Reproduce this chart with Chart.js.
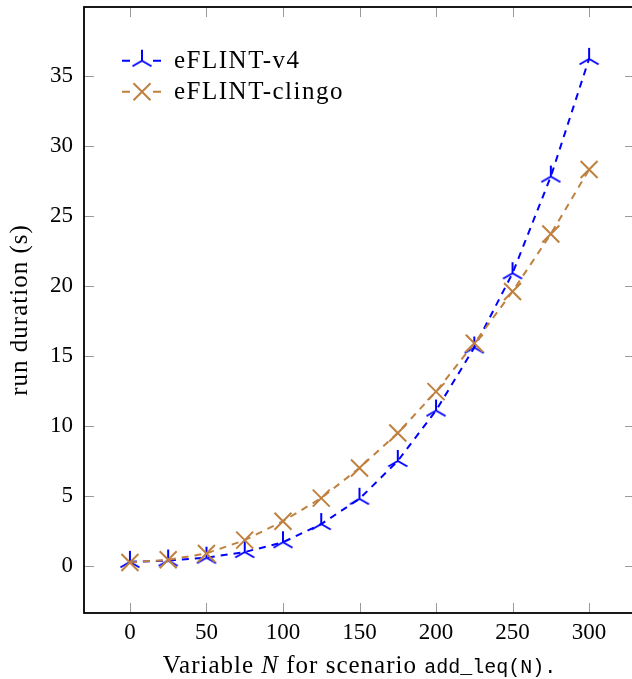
<!DOCTYPE html>
<html>
<head>
<meta charset="utf-8">
<script src="https://cdn.jsdelivr.net/npm/chart.js@4.4.1/dist/chart.umd.min.js"></script>
<style>
  html, body { margin: 0; padding: 0; background: #fff; overflow: hidden; }
  #wrap { position: relative; width: 640px; height: 679px; }
</style>
</head>
<body>
<div id="wrap"><canvas id="myChart"></canvas></div>
<script>
// data
const sizes = [0, 25, 50, 75, 100, 125, 150, 175, 200, 225, 250, 275, 300];
const v4Times = [0.3, 0.4, 0.6, 1.0, 1.7, 3.0, 4.8, 7.5, 11.1, 15.6, 20.9, 27.8, 36.2];
const clingoTimes = [0.25, 0.45, 0.9, 1.85, 3.2, 4.85, 7.0, 9.5, 12.45, 15.9, 19.6, 23.7, 28.3];
const seriesNames = ['eFLINT-v4', 'eFLINT-clingo'];
const xTicks = [0, 50, 100, 150, 200, 250, 300];
const yTicks = [0, 5, 10, 15, 20, 25, 30, 35];

const BLUE = '#0000ff';
const BROWN = '#bf8040';
const SERIF = "'Liberation Serif', 'Times New Roman', serif";

// pgfplots "Mercedes star" marker
function starMarker(color) {
  const c = document.createElement('canvas');
  c.width = 28; c.height = 28;
  const g = c.getContext('2d');
  g.strokeStyle = color;
  g.lineWidth = 2;
  g.beginPath();
  [-90, 30, 150].forEach(a => {
    g.moveTo(14, 14);
    g.lineTo(14 + 11 * Math.cos(a * Math.PI / 180), 14 + 11 * Math.sin(a * Math.PI / 180));
  });
  g.stroke();
  return c;
}
const star = starMarker(BLUE);

// box + inward ticks like pgfplots
const framePlugin = {
  id: 'frame',
  afterDatasetsDraw(chart) {
    const { ctx, chartArea: a, scales: { x, y } } = chart;
    ctx.save();
    ctx.strokeStyle = '#9a9a9a';
    ctx.lineWidth = 1;
    ctx.beginPath();
    x.ticks.forEach(t => {
      const px = Math.round(x.getPixelForValue(t.value)) + 0.5;
      ctx.moveTo(px, a.bottom); ctx.lineTo(px, a.bottom - 10);
      ctx.moveTo(px, a.top); ctx.lineTo(px, a.top + 10);
    });
    y.ticks.forEach(t => {
      const py = Math.round(y.getPixelForValue(t.value)) + 0.5;
      ctx.moveTo(a.left, py); ctx.lineTo(a.left + 10, py);
      ctx.moveTo(a.right, py); ctx.lineTo(a.right - 10, py);
    });
    ctx.stroke();
    ctx.strokeStyle = '#000';
    ctx.lineWidth = 1.8;
    ctx.strokeRect(a.left, a.top, a.right - a.left, a.bottom - a.top);
    ctx.restore();
  }
};

// legend in the upper left corner of the axes
const legendPlugin = {
  id: 'cornerLegend',
  afterDraw(chart) {
    const ctx = chart.ctx;
    const rows = [60.7, 91.7];
    ctx.save();
    chart.data.datasets.forEach((ds, i) => {
      const yy = rows[i];
      ctx.strokeStyle = ds.borderColor;
      ctx.lineWidth = 2;
      ctx.setLineDash([8, 23]);
      ctx.beginPath();
      ctx.moveTo(122, yy); ctx.lineTo(161, yy);
      ctx.stroke();
      ctx.setLineDash([]);
      if (ds.pointStyle === 'crossRot') {
        const r = 8.5;
        ctx.beginPath();
        ctx.moveTo(142 - r, yy - r); ctx.lineTo(142 + r, yy + r);
        ctx.moveTo(142 - r, yy + r); ctx.lineTo(142 + r, yy - r);
        ctx.stroke();
      } else {
        ctx.drawImage(ds.pointStyle, 142 - 14, yy - 14);
      }
      ctx.fillStyle = '#000';
      ctx.font = '25px ' + SERIF;
      ctx.letterSpacing = '1.5px';
      ctx.textBaseline = 'middle';
      ctx.fillText(ds.label, 174, yy + 1);
    });
    ctx.restore();
  }
};

// axis titles: italic N and typewriter part in the x title
const titlesPlugin = {
  id: 'axisTitles',
  afterDraw(chart) {
    const { ctx, chartArea: a } = chart;
    const parts = [
      ['Variable ', '25px ' + SERIF, '1px'],
      ['N', 'italic 25px ' + SERIF, '1px'],
      [' for scenario ', '25px ' + SERIF, '1px'],
      ['add_leq(N).', "20px 'Liberation Mono', 'DejaVu Sans Mono', monospace", '0px']
    ];
    ctx.save();
    let total = 0;
    parts.forEach(p => { ctx.font = p[1]; ctx.letterSpacing = p[2]; total += ctx.measureText(p[0]).width; });
    let xx = (a.left + a.right) / 2 - total / 2;
    ctx.fillStyle = '#000';
    ctx.textBaseline = 'alphabetic';
    parts.forEach(p => {
      ctx.font = p[1];
      ctx.letterSpacing = p[2];
      ctx.fillText(p[0], xx, 673);
      xx += ctx.measureText(p[0]).width;
    });

    ctx.translate(20, (a.top + a.bottom) / 2);
    ctx.rotate(-Math.PI / 2);
    ctx.font = '25px ' + SERIF;
    ctx.letterSpacing = '1px';
    ctx.textAlign = 'center';
    ctx.textBaseline = 'middle';
    ctx.fillText('run duration (s)', 0, 0);
    ctx.restore();
  }
};

function noEdgePadding(s) {
  s.paddingTop = 0; s.paddingBottom = 0;
  s.paddingLeft = 0; s.paddingRight = 0;
}

const ctx = document.getElementById('myChart');

new Chart(ctx, {
  type: 'line',
  data: {
    datasets: [
      {
        label: seriesNames[0],
        data: sizes.map((n, i) => ({ x: n, y: v4Times[i] })),
        borderColor: BLUE,
        backgroundColor: BLUE,
        borderWidth: 2,
        borderDash: [7, 6],
        pointStyle: star,
        pointRadius: 11,
        order: 1
      },
      {
        label: seriesNames[1],
        data: sizes.map((n, i) => ({ x: n, y: clingoTimes[i] })),
        borderColor: BROWN,
        backgroundColor: BROWN,
        borderWidth: 2,
        borderDash: [7, 6],
        pointStyle: 'crossRot',
        pointRadius: 12,
        pointBorderWidth: 2,
        order: 0
      }
    ]
  },
  options: {
    responsive: true,
    maintainAspectRatio: false,
    animation: false,
    layout: { autoPadding: false, padding: { top: 7, right: 5, left: 0, bottom: 0 } },
    plugins: {
      legend: { display: false },
      tooltip: { enabled: false }
    },
    scales: {
      x: {
        type: 'linear',
        min: -30,
        max: 330,
        afterFit: s => { s.height = 66; noEdgePadding(s); },
        afterBuildTicks: s => { s.ticks = xTicks.map(v => ({ value: v })); },
        ticks: {
          padding: 6,
          color: '#000',
          font: { family: SERIF, size: 23 }
        },
        grid: { display: false, drawTicks: false },
        border: { display: false }
      },
      y: {
        min: -3.35,
        max: 39.9,
        afterFit: s => { s.width = 84; noEdgePadding(s); },
        afterBuildTicks: s => { s.ticks = yTicks.map(v => ({ value: v })); },
        ticks: {
          padding: 11,
          color: '#000',
          font: { family: SERIF, size: 23 }
        },
        grid: { display: false, drawTicks: false },
        border: { display: false }
      }
    }
  },
  plugins: [framePlugin, legendPlugin, titlesPlugin]
});
</script>
</body>
</html>
